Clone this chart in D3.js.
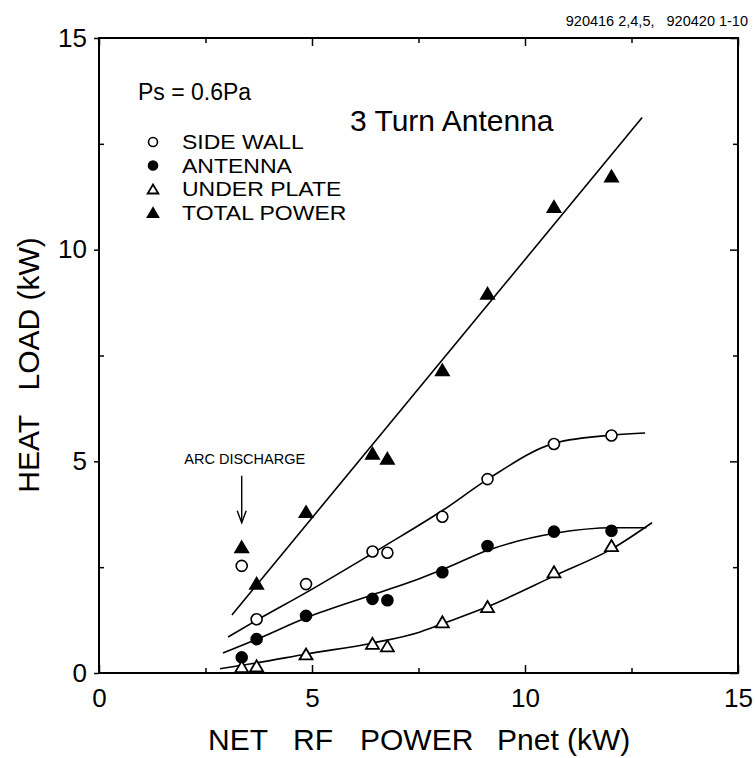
<!DOCTYPE html>
<html>
<head>
<meta charset="utf-8">
<script src="https://cdn.jsdelivr.net/npm/d3@7"></script>
<style>
  body { margin: 0; background: #fff; }
  svg { display: block; }
  text { font-family: "Liberation Sans", Arial, Helvetica, sans-serif; fill: #000; white-space: pre; }
</style>
</head>
<body>
<svg id="chart" width="755" height="758"></svg>
<script>
// Measured heat loads (kW) against net RF power (kW)
const netPower   = [3.35, 3.70, 4.86, 6.42, 6.77, 8.06, 9.12, 10.68, 12.03];
const sideWall   = [2.53, 1.27, 2.10, 2.87, 2.84, 3.69, 4.58, 5.41, 5.61];
const antenna    = [0.37, 0.80, 1.35, 1.75, 1.72, 2.38, 3.00, 3.34, 3.36];
const underPlate = [0.15, 0.17, 0.45, 0.70, 0.64, 1.21, 1.57, 2.39, 3.01];
const totalPower = [2.98, 2.12, 3.81, 5.19, 5.07, 7.16, 8.97, 11.02, 11.74];

// Hand-drawn fit curves (x in kW, y in kW)
const sideWallFitX   = [3.03, 3.71, 4.88, 6.36, 7.07, 8.08, 9.13, 10.70, 12.07, 12.82];
const sideWallFitY   = [0.85, 1.25, 1.91, 2.79, 3.22, 3.85, 4.58, 5.43, 5.62, 5.67];
const antennaFitX    = [2.91, 3.71, 4.88, 6.43, 7.55, 8.08, 9.13, 10.70, 12.07, 12.85];
const antennaFitY    = [0.47, 0.80, 1.31, 1.85, 2.24, 2.45, 2.90, 3.30, 3.43, 3.43];
const underPlateFitX = [2.84, 3.71, 4.88, 6.43, 7.54, 8.08, 9.13, 10.70, 12.07, 12.98];
const underPlateFitY = [0.10, 0.24, 0.45, 0.71, 0.97, 1.17, 1.57, 2.30, 2.95, 3.55];
const totalFitX      = [3.12, 12.75];
const totalFitY      = [1.37, 13.12];

const majorTicks = [0, 5, 10, 15];
const minorTicks = [2.5, 7.5, 12.5];
const legendItems = ["SIDE WALL", "ANTENNA", "UNDER PLATE", "TOTAL POWER"];
const legendSymbols = ["openCircle", "filledCircle", "openTriangle", "filledTriangle"];

const svg = d3.select("#chart");
const x = d3.scaleLinear().domain([0, 15]).range([99, 738]);
const y = d3.scaleLinear().domain([0, 15]).range([673, 38]);
const FONT = "'Liberation Sans', Arial, Helvetica, sans-serif";

// Plot frame
svg.append("rect")
  .attr("x", x(0)).attr("y", y(15))
  .attr("width", x(15) - x(0)).attr("height", y(0) - y(15))
  .attr("fill", "none").attr("stroke", "#000").attr("stroke-width", 2);

// Tick labels
const gL = svg.append("g").attr("transform", `translate(${x(0)},0)`)
  .call(d3.axisLeft(y).tickValues(majorTicks).tickSize(5).tickPadding(7).tickFormat(d3.format("d")));
gL.attr("font-family", FONT).attr("font-size", 26);
gL.select(".domain").remove();
gL.selectAll(".tick line").attr("stroke-width", 1.5);

const gB = svg.append("g").attr("transform", `translate(0,${y(0)})`)
  .call(d3.axisBottom(x).tickValues(majorTicks).tickSize(-8).tickPadding(16).tickFormat(d3.format("d")));
gB.attr("font-family", FONT).attr("font-size", 26);
gB.select(".domain").remove();
gB.selectAll(".tick line").attr("stroke-width", 1.5);

// Inward ticks on the remaining sides and minor ticks
function ticks(axisFn, scale, values, size, transform) {
  const g = svg.append("g").attr("transform", transform)
    .call(axisFn(scale).tickValues(values).tickSize(size).tickFormat(""));
  g.select(".domain").remove();
  g.selectAll(".tick line").attr("stroke-width", 1.5);
}
ticks(d3.axisLeft, y, minorTicks, -5, `translate(${x(0)},0)`);
ticks(d3.axisBottom, x, minorTicks, -5, `translate(0,${y(0)})`);
ticks(d3.axisRight, y, majorTicks, -8, `translate(${x(15)},0)`);
ticks(d3.axisRight, y, minorTicks, -5, `translate(${x(15)},0)`);
ticks(d3.axisTop, x, majorTicks, -8, `translate(0,${y(15)})`);
ticks(d3.axisTop, x, minorTicks, -5, `translate(0,${y(15)})`);

// Fit curves
const line = d3.line().x(d => x(d[0])).y(d => y(d[1])).curve(d3.curveMonotoneX);
[[sideWallFitX, sideWallFitY], [antennaFitX, antennaFitY],
 [underPlateFitX, underPlateFitY], [totalFitX, totalFitY]].forEach(([xs, ys]) => {
  svg.append("path")
    .attr("d", line(xs.map((v, i) => [v, ys[i]])))
    .attr("fill", "none").attr("stroke", "#000").attr("stroke-width", 1.6);
});

// Marker drawing
function marker(g, kind, cx, cy, scale) {
  const s = scale || 1;
  if (kind === "openCircle" || kind === "filledCircle") {
    g.append("circle").attr("cx", cx).attr("cy", cy).attr("r", 5.5 * s)
      .attr("fill", kind === "filledCircle" ? "#000" : "#fff")
      .attr("stroke", "#000").attr("stroke-width", 1.6);
  } else {
    const w = 13 * s, h = 11 * s;
    g.append("path")
      .attr("d", `M${cx},${cy - h / 2}L${cx + w / 2},${cy + h / 2}L${cx - w / 2},${cy + h / 2}Z`)
      .attr("fill", kind === "filledTriangle" ? "#000" : "#fff")
      .attr("stroke", "#000").attr("stroke-width", 1.8).attr("stroke-linejoin", "miter");
  }
}

const gm = svg.append("g");
const seriesList = [[sideWall, "openCircle"], [antenna, "filledCircle"],
                    [underPlate, "openTriangle"], [totalPower, "filledTriangle"]];
seriesList.forEach(([vals, kind]) => {
  vals.forEach((v, i) => marker(gm, kind, x(netPower[i]), y(v)));
});

// Legend
svg.append("text").attr("x", 138).attr("y", 100).attr("font-size", 23).text("Ps = 0.6Pa");
svg.append("text").attr("x", 350).attr("y", 131).attr("font-size", 30).text("3 Turn Antenna");
legendItems.forEach((name, i) => {
  const cy = 142 + i * 23.5;
  marker(svg, legendSymbols[i], 153, cy, 0.82);
  // slightly compressed vertically so the tightly stacked rows stay apart
  svg.append("text")
    .attr("transform", `translate(182,${cy + 7}) scale(1,0.88)`)
    .attr("font-size", 23).text(name);
});

// Arc discharge annotation
const ax = x(netPower[0]);
const aEnd = y(totalPower[0]) - 24;
svg.append("text").attr("x", ax + 3).attr("y", aEnd - 59).attr("text-anchor", "middle")
  .attr("font-size", 14.5).text("ARC DISCHARGE");
svg.append("line").attr("x1", ax).attr("x2", ax).attr("y1", aEnd - 47).attr("y2", aEnd)
  .attr("stroke", "#000").attr("stroke-width", 1.4);
svg.append("path").attr("d", `M${ax - 4.5},${aEnd - 12}L${ax},${aEnd}L${ax + 4.5},${aEnd - 12}`)
  .attr("fill", "none").attr("stroke", "#000").attr("stroke-width", 1.4);

// Axis titles
svg.append("text").attr("transform", "translate(39,365) rotate(-90)")
  .attr("text-anchor", "middle").attr("font-size", 30).text("HEAT   LOAD (kW)");
const xTitle = [["NET", 208], ["RF", 293], ["POWER", 360], ["Pnet (kW)", 497]];
xTitle.forEach(([t, px]) => {
  svg.append("text").attr("x", px).attr("y", 750).attr("font-size", 30).text(t);
});

// Run identifiers
svg.append("text").attr("x", 748).attr("y", 26).attr("text-anchor", "end")
  .attr("font-size", 14.5).text("920416 2,4,5,   920420 1-10");
</script>
</body>
</html>
